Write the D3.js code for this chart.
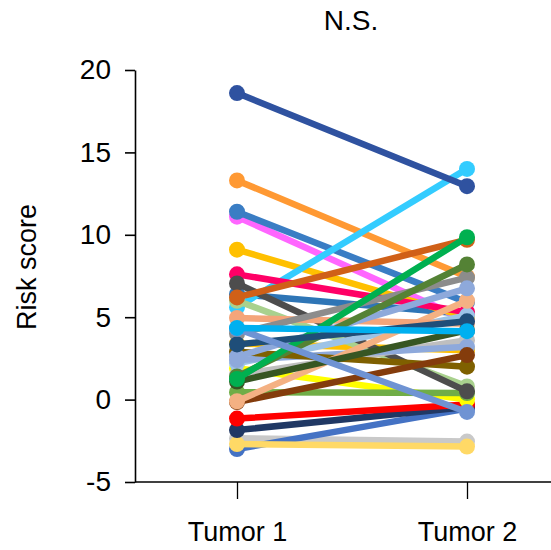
<!DOCTYPE html>
<html>
<head>
<meta charset="utf-8">
<script src="https://cdn.jsdelivr.net/npm/d3@7"></script>
<style>
  html, body { margin: 0; padding: 0; background: #fff; }
  svg { display: block; font-family: "Liberation Sans", Arial, sans-serif; }
</style>
</head>
<body>
<svg id="chart" width="551" height="550"></svg>
<script>
// Paired risk scores: each patient measured in two tumours
const categories = ["Tumor 1", "Tumor 2"];
const yTicks = [-5, 0, 5, 10, 15, 20];
const title = "N.S.";
const yTitle = "Risk score";

const tumor1 = [6.4, 11.1, 11.4, 13.3, 3.4, 9.1, 5.6, -2.35, -3.0, -2.7, -1.85, -1.15, 1.9, 6.0, 0.45,
                7.6, 7.05, 1.5, 2.2, 2.4, 2.9, -0.15, -0.1, 4.95, 1.1, 4.0, 2.6, 1.4, 6.2, 1.25,
                3.35, 4.3, 4.35, 18.6];
const tumor2 = [5.2, 4.8, 5.9, 7.45, 3.0, 5.0, 14.0, -2.55, -0.55, -2.85, -0.45, -0.3, 0.0, 0.8, 0.4,
                5.3, 0.5, 3.6, 5.1, 3.2, 2.0, 2.7, 6.0, 4.6, 4.2, 7.4, 6.75, 8.2, 9.7, 9.85,
                4.75, -0.75, 4.15, 12.95];
const palette = ["#2E75B6", "#FF66FF", "#3A7DC4", "#FF9933", "#FFC000", "#FFC000", "#33CCFF", "#C9C9C9",
                 "#4472C4", "#FFD966", "#203864", "#FF0000", "#FFFF00", "#A9D18E", "#70AD47",
                 "#FF0066", "#4D4D4D", "#BFBFBF", "#9DC3E6", "#8EA9DB", "#7F6000", "#843C0C",
                 "#F4B183", "#F4A57A", "#375623", "#8C8C8C", "#8EA9DB", "#548235", "#D06018",
                 "#00B050", "#1F4E79", "#6F93D3", "#00B0F0", "#2F52A0"];

const svg = d3.select("#chart");

const y = d3.scaleLinear().domain([-5, 20]).range([482, 70]);
const x = d3.scalePoint().domain(categories).range([237, 467]);

// y axis (plain hyphen for negative labels)
const yAxis = svg.append("g")
  .attr("transform", "translate(135,0)")
  .call(d3.axisLeft(y).tickValues(yTicks).tickFormat(d => String(d))
    .tickSize(10).tickSizeOuter(0).tickPadding(14));
yAxis.select(".domain").attr("stroke", "#000").attr("stroke-width", 1.6);
yAxis.selectAll(".tick line").attr("stroke", "#000").attr("stroke-width", 1.6);
yAxis.selectAll(".tick text").attr("font-size", 28).attr("fill", "#000")
  .attr("font-family", "Liberation Sans, Arial, sans-serif");

// x axis, baseline runs across the full plot width
const xAxis = svg.append("g")
  .attr("transform", `translate(0,${y(-5)})`)
  .call(d3.axisBottom(x).tickSize(17).tickSizeOuter(0).tickPadding(23));
xAxis.select(".domain").attr("d", "M135,0H551").attr("stroke", "#000").attr("stroke-width", 1.3);
xAxis.selectAll(".tick line").attr("stroke", "#000").attr("stroke-width", 1.3);
xAxis.selectAll(".tick text").attr("font-size", 27).attr("fill", "#000")
  .attr("font-family", "Liberation Sans, Arial, sans-serif");

// paired lines with end markers
const plot = svg.append("g");
tumor1.forEach((v, i) => {
  const pts = [[categories[0], v], [categories[1], tumor2[i]]];
  const g = plot.append("g");
  g.append("path")
    .attr("d", d3.line().x(d => x(d[0])).y(d => y(d[1]))(pts))
    .attr("fill", "none")
    .attr("stroke", palette[i])
    .attr("stroke-width", 6.5)
    .attr("stroke-linecap", "round");
  g.selectAll("circle").data(pts).join("circle")
    .attr("cx", d => x(d[0]))
    .attr("cy", d => y(d[1]))
    .attr("r", 8)
    .attr("fill", palette[i]);
});

// titles
svg.append("text")
  .attr("x", 351).attr("y", 30)
  .attr("text-anchor", "middle")
  .attr("font-size", 28)
  .text(title);

svg.append("text")
  .attr("transform", "translate(36,267) rotate(-90)")
  .attr("text-anchor", "middle")
  .attr("font-size", 27)
  .text(yTitle);
</script>
</body>
</html>
